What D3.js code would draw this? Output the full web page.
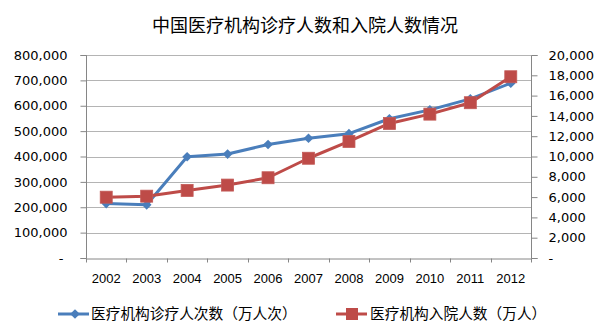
<!DOCTYPE html>
<html><head><meta charset="utf-8">
<script src="https://cdn.jsdelivr.net/npm/d3@7"></script>
<style>body{margin:0;background:#fff}svg{display:block}</style>
</head><body>
<svg id="c" width="600" height="323"></svg>
<script>
const title = "中国医疗机构诊疗人数和入院人数情况";
const years = ["2002","2003","2004","2005","2006","2007","2008","2009","2010","2011","2012"];
const visits = [214500, 209600, 399100, 409700, 447200, 472000, 490100, 548800, 583800, 627100, 688800];
const admissions = [5991, 6092, 6657, 7184, 7906, 9827, 11483, 13256, 14174, 15298, 17857];
const leftTicks = [0,100000,200000,300000,400000,500000,600000,700000,800000];
const rightTicks = [0,2000,4000,6000,8000,10000,12000,14000,16000,18000,20000];
const seriesNames = ["医疗机构诊疗人次数（万人次）","医疗机构入院人数（万人）"];
const colors = ["#4a7ebb","#be4b48"];

const svg = d3.select("#c");
const L = 86, R = 531, T = 55, B = 258;
const x = d3.scaleBand().domain(years).range([L, R]);
const yL = d3.scaleLinear().domain([0, 800000]).range([B, T]);
const yR = d3.scaleLinear().domain([0, 20000]).range([B, T]);
const fmt = d3.format(",");

svg.append("text").attr("x", 305).attr("y", 32).attr("text-anchor","middle")
  .attr("font-family","Noto Sans CJK SC").attr("font-size",18).attr("fill","#000").text(title);

// gridlines
svg.append("g").selectAll("line").data(leftTicks.filter(d=>d>0)).join("line")
  .attr("x1", L).attr("x2", R).attr("y1", d=>Math.round(yL(d))+0.5).attr("y2", d=>Math.round(yL(d))+0.5)
  .attr("stroke","#b4b4b4").attr("stroke-width",1);

// left axis
const gL = svg.append("g").attr("transform",`translate(${L+0.5},0)`)
  .call(d3.axisLeft(yL).tickValues(leftTicks).tickSize(6).tickPadding(13).tickFormat(d=>d===0?"-":fmt(d)));
// right axis
const gR = svg.append("g").attr("transform",`translate(${R+0.5},0)`)
  .call(d3.axisRight(yR).tickValues(rightTicks).tickSize(6).tickPadding(11).tickFormat(d=>d===0?"-":fmt(d)));
// bottom axis
const gB = svg.append("g").attr("transform",`translate(0,${B+0.5})`)
  .call(d3.axisBottom(x).tickSize(0).tickPadding(15));
gB.append("g").selectAll("line").data(years.map(y=>x(y)).concat([R])).join("line")
  .attr("x1",d=>Math.round(d)+0.5).attr("x2",d=>Math.round(d)+0.5).attr("y1",0).attr("y2",4)
  .attr("stroke","#868686");

[gL,gR,gB].forEach(g=>{
  g.select(".domain").attr("stroke","#868686");
  g.selectAll(".tick line").attr("stroke","#868686");
  g.selectAll("text").attr("fill","#000");
});
gL.select(".domain").attr("d",`M-6,${T+0.5}H0V${B+0.5}H-6`);
gR.select(".domain").attr("d",`M6,${T+0.5}H0V${B+0.5}H6`);
gL.selectAll("text").attr("font-family","DejaVu Sans").attr("font-size",13);
gR.selectAll("text").attr("font-family","DejaVu Sans").attr("font-size",13);
gL.selectAll(".tick").filter(d=>d===0).select("text").attr("dx",-4);
gB.selectAll("text").attr("font-family","Liberation Sans").attr("font-size",13);

const cx = d => x(d) + x.bandwidth()/2;
const line1 = d3.line().x((d,i)=>cx(years[i])).y(d=>yL(d));
const line2 = d3.line().x((d,i)=>cx(years[i])).y(d=>yR(d));

svg.append("path").attr("d", line1(visits)).attr("fill","none").attr("stroke",colors[0]).attr("stroke-width",3).attr("stroke-linejoin","round");
svg.append("g").selectAll("path").data(visits).join("path")
  .attr("d", d3.symbol().type(d3.symbolDiamond2).size(60)())
  .attr("transform",(d,i)=>`translate(${cx(years[i])},${yL(d)})`)
  .attr("fill",colors[0]);

svg.append("path").attr("d", line2(admissions)).attr("fill","none").attr("stroke",colors[1]).attr("stroke-width",3).attr("stroke-linejoin","round");
svg.append("g").selectAll("rect").data(admissions).join("rect")
  .attr("x",(d,i)=>cx(years[i])-6).attr("y",d=>yR(d)-6).attr("width",12).attr("height",12)
  .attr("fill",colors[1]).attr("stroke","#c35a57").attr("stroke-width",0.8);

// legend
const lg = svg.append("g").attr("font-family","Noto Sans CJK SC").attr("font-size",14.7);
const legItems = [{x:58, tx:91},{x:336, tx:370}];
legItems.forEach((it,i)=>{
  lg.append("line").attr("x1",it.x).attr("x2",it.x+31).attr("y1",314).attr("y2",314).attr("stroke",colors[i]).attr("stroke-width",3);
  if(i===0){
    lg.append("path").attr("d", d3.symbol().type(d3.symbolDiamond2).size(60)()).attr("transform",`translate(${it.x+17},314)`).attr("fill",colors[0]);
  } else {
    lg.append("rect").attr("x",it.x+10).attr("y",308).attr("width",12).attr("height",12).attr("fill",colors[1]);
  }
  lg.append("text").attr("x",it.tx).attr("y",319).attr("fill","#000").text(seriesNames[i]);
});
</script>
</body></html>
